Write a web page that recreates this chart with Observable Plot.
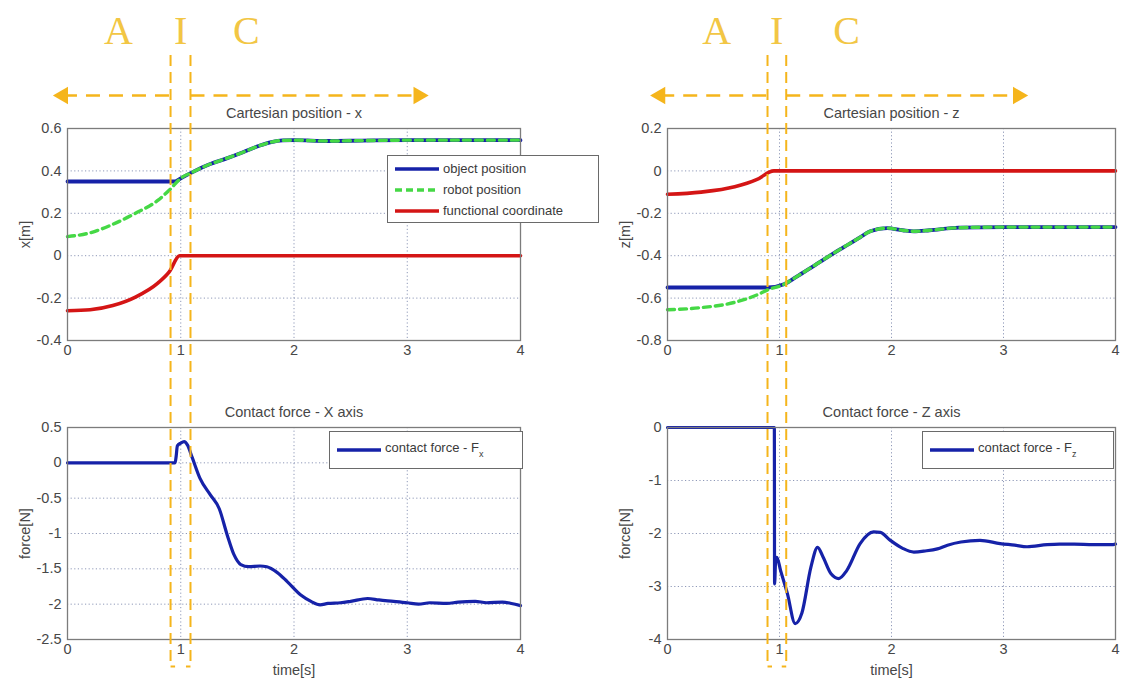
<!DOCTYPE html>
<html><head><meta charset="utf-8">
<script src="https://cdn.jsdelivr.net/npm/d3@7"></script>
<script src="https://cdn.jsdelivr.net/npm/@observablehq/plot@0.6"></script>
<style>
body{margin:0;background:#fff;}
#root{position:relative;width:1122px;height:688px;overflow:hidden;font-family:"Liberation Sans",Arial,sans-serif;background:#fff;}
.pos{position:absolute;}
.legend{position:absolute;background:#fff;border:1px solid #6a6a6a;font-size:13px;color:#3a3a3a;box-sizing:border-box;}
.row{display:flex;align-items:center;height:21px;white-space:nowrap;}
.row svg{margin:0 3px 0 6px;flex:none;}
sub{font-size:9px;vertical-align:-5px;}
</style></head>
<body><div id="root"></div>
<script>
// ---------- data ----------
const xTicks = [0, 1, 2, 3, 4];
const posXTicks = [0.6, 0.4, 0.2, 0, -0.2, -0.4];
const posZTicks = [0.2, 0, -0.2, -0.4, -0.6, -0.8];
const forceXTicks = [0.5, 0, -0.5, -1, -1.5, -2, -2.5];
const forceZTicks = [0, -1, -2, -3, -4];

const seriesNames = ["object position", "robot position", "functional coordinate"];

// Cartesian position - x
const objX_t = [0, 0.95, 1.0, 1.1, 1.25, 1.4, 1.55, 1.7, 1.8, 1.9, 2.0, 2.3, 2.6, 3.0, 3.4, 3.8, 4.0];
const objX_v = [0.35, 0.35, 0.365, 0.393, 0.43, 0.458, 0.488, 0.52, 0.536, 0.544, 0.545, 0.541, 0.543, 0.545, 0.545, 0.545, 0.545];
const robX_t = [0, 0.2, 0.4, 0.6, 0.8, 0.9, 1.0, 1.1, 1.25, 1.4, 1.55, 1.7, 1.8, 1.9, 2.0, 2.3, 2.6, 3.0, 3.4, 3.8, 4.0];
const robX_v = [0.09, 0.108, 0.148, 0.2, 0.262, 0.31, 0.365, 0.393, 0.43, 0.458, 0.488, 0.52, 0.536, 0.544, 0.545, 0.541, 0.543, 0.545, 0.545, 0.545, 0.545];
const funX_t = [0, 0.2, 0.4, 0.6, 0.8, 0.9, 0.99, 1.2, 2, 3, 4];
const funX_v = [-0.26, -0.255, -0.235, -0.195, -0.128, -0.075, 0, 0, 0, 0, 0];

// Cartesian position - z
const objZ_t = [0, 0.9, 1.04, 1.15, 1.3, 1.54, 1.7, 1.81, 1.96, 2.1, 2.2, 2.34, 2.6, 3.0, 3.5, 4.0];
const objZ_v = [-0.55, -0.55, -0.535, -0.5, -0.45, -0.37, -0.32, -0.285, -0.27, -0.28, -0.285, -0.28, -0.268, -0.265, -0.265, -0.265];
const robZ_t = [0, 0.3, 0.6, 0.8, 0.9, 1.04, 1.15, 1.3, 1.54, 1.7, 1.81, 1.96, 2.1, 2.2, 2.34, 2.6, 3.0, 3.5, 4.0];
const robZ_v = [-0.655, -0.645, -0.62, -0.585, -0.56, -0.535, -0.5, -0.45, -0.37, -0.32, -0.285, -0.27, -0.28, -0.285, -0.28, -0.268, -0.265, -0.265, -0.265];
const funZ_t = [0, 0.3, 0.6, 0.8, 0.95, 1.2, 2, 3, 4];
const funZ_v = [-0.11, -0.1, -0.075, -0.04, 0, 0, 0, 0, 0];

// Contact force - X axis
const fx_t = [0, 0.95, 0.96, 0.97, 1.0, 1.03, 1.06, 1.1, 1.17, 1.26, 1.34, 1.41, 1.47, 1.53, 1.6, 1.7, 1.76, 1.85, 1.94, 2.06, 2.15, 2.23, 2.3, 2.41, 2.5, 2.65, 2.75, 2.88, 3.0, 3.1, 3.2, 3.35, 3.45, 3.6, 3.7, 3.84, 3.92, 4.0];
const fx_v = [0, 0, 0.1, 0.24, 0.28, 0.3, 0.25, 0.08, -0.22, -0.45, -0.65, -1.02, -1.3, -1.44, -1.47, -1.46, -1.47, -1.55, -1.68, -1.87, -1.96, -2.01, -1.99, -1.98, -1.96, -1.92, -1.94, -1.96, -1.98, -2.0, -1.98, -1.99, -1.97, -1.96, -1.98, -1.97, -1.99, -2.02];

// Contact force - Z axis
const fz_t = [0, 0.954, 0.956, 0.966, 0.976, 1.01, 1.07, 1.14, 1.2, 1.28, 1.34, 1.39, 1.46, 1.53, 1.6, 1.72, 1.84, 1.9, 1.99, 2.1, 2.2, 2.3, 2.41, 2.5, 2.62, 2.79, 2.97, 3.1, 3.21, 3.39, 3.5, 3.63, 3.8, 3.98, 4.0];
const fz_v = [0, 0, -2.95, -2.5, -2.45, -2.7, -3.13, -3.7, -3.5, -2.64, -2.26, -2.45, -2.76, -2.85, -2.7, -2.19, -1.97, -1.98, -2.13, -2.28, -2.35, -2.33, -2.29, -2.22, -2.16, -2.13, -2.19, -2.22, -2.25, -2.21, -2.2, -2.2, -2.21, -2.21, -2.2];

// phase annotations (time units of each column's x scale)
const phaseBoundsL = [0.91, 1.086];
const phaseBoundsR = [0.893, 1.06];
const phaseLettersL = [{label: "A", t: 0.45}, {label: "I", t: 1.0}, {label: "C", t: 1.58}];
const phaseLettersR = [{label: "A", t: 0.44}, {label: "I", t: 0.975}, {label: "C", t: 1.6}];
const arrowTipsL = [-0.04, 3.1];
const arrowTipsR = [-0.065, 3.13];

// ---------- styles ----------
const BLUE = "#1622a8", GREEN = "#45d845", RED = "#d41515", GOLD = "#f5b51c", LETTER = "#f2c644";
const TXT = "#474747";
const FONT = '"Liberation Sans", Arial, sans-serif';
const zip = (t, v) => t.map((d, i) => ({t: d, v: v[i]}));
const root = document.getElementById("root");

function place(el, left, top) {
  el.classList.add("pos");
  el.style.left = left + "px";
  el.style.top = top + "px";
  root.appendChild(el);
}

function panel({lines, yDomain, yTicks, yLabel, title, xLabel, left, top, width, height, mL, mR, mT, mB}) {
  const marks = [
    Plot.gridX(xTicks, {stroke: "#8f99b8", strokeDasharray: "1.2,2.4", strokeOpacity: 1, strokeWidth: 1}),
    Plot.gridY(yTicks, {stroke: "#8f99b8", strokeDasharray: "1.2,2.4", strokeOpacity: 1, strokeWidth: 1}),
    ...lines.map(l => Plot.line(l.data, {x: "t", y: "v", stroke: l.color, strokeWidth: l.width || 3.2,
      strokeDasharray: l.dash, curve: "monotone-x"})),
    Plot.frame({stroke: "#7c7c7c", strokeWidth: 1.3}),
    Plot.axisX({ticks: xTicks, tickSize: 0, tickPadding: 4, tickFormat: d => String(d), fontSize: 14.5, color: TXT,
      label: xLabel ?? null, labelAnchor: "center", labelArrow: "none", labelOffset: 35}),
    Plot.axisY({ticks: yTicks, tickSize: 0, tickPadding: 6, tickFormat: d => String(d), fontSize: 14.5, color: TXT,
      label: yLabel, labelAnchor: "center", labelArrow: "none", labelOffset: 48}),
    Plot.text([title], {frameAnchor: "top", lineAnchor: "bottom", dy: -11, fontSize: 14.5, fill: TXT})
  ];
  const svg = Plot.plot({
    width, height, marginLeft: mL, marginRight: mR, marginTop: mT, marginBottom: mB,
    x: {domain: [0, 4]}, y: {domain: yDomain},
    style: {fontFamily: FONT, fontSize: "14.5px", background: "transparent", overflow: "visible"},
    marks
  });
  place(svg, left, top);
}

const colL = {left: 0, width: 560, mL: 67, mR: 40};
const colR = {left: 600, width: 522, mL: 67, mR: 7};
const topRow = {top: 100, height: 270, mT: 28, mB: 30};
const botRow = {top: 399, height: 290, mT: 28, mB: 50};

panel({...colL, ...topRow, yDomain: [-0.4, 0.6], yTicks: posXTicks, yLabel: "x[m]", title: "Cartesian position - x",
  lines: [
    {data: zip(objX_t, objX_v), color: BLUE, width: 3.8},
    {data: zip(robX_t, robX_v), color: GREEN, width: 3.4, dash: "7,5"},
    {data: zip(funX_t, funX_v), color: RED, width: 3.6}
  ]});
panel({...colR, ...topRow, yDomain: [-0.8, 0.2], yTicks: posZTicks, yLabel: "z[m]", title: "Cartesian position - z",
  lines: [
    {data: zip(objZ_t, objZ_v), color: BLUE, width: 3.8},
    {data: zip(robZ_t, robZ_v), color: GREEN, width: 3.4, dash: "7,5"},
    {data: zip(funZ_t, funZ_v), color: RED, width: 3.6}
  ]});
panel({...colL, ...botRow, yDomain: [-2.5, 0.5], yTicks: forceXTicks, yLabel: "force[N]", title: "Contact force - X axis", xLabel: "time[s]",
  lines: [{data: zip(fx_t, fx_v), color: BLUE, width: 3.2}]});
panel({...colR, ...botRow, yDomain: [-4, 0], yTicks: forceZTicks, yLabel: "force[N]", title: "Contact force - Z axis", xLabel: "time[s]",
  lines: [{data: zip(fz_t, fz_v), color: BLUE, width: 3.2}]});

// ---------- legends ----------
function sample(color, dash) {
  return `<svg width="46" height="8"><line x1="1" y1="4" x2="45" y2="4" stroke="${color}" stroke-width="3.5" ${dash ? `stroke-dasharray="${dash}"` : ""}/></svg>`;
}
function legend(html, left, top, width, height) {
  const d = document.createElement("div");
  d.className = "legend";
  d.innerHTML = html;
  d.style.left = left + "px"; d.style.top = top + "px";
  d.style.width = width + "px"; d.style.height = height + "px";
  root.appendChild(d);
}
const legColors = [[BLUE], [GREEN, "7,4"], [RED]];
legend(`<div style="padding-top:2px">` + seriesNames.map((n, i) => `<div class="row">${sample(...legColors[i])}<span>${n}</span></div>`).join("") + `</div>`, 387, 155, 212, 68);
legend(`<div class="row" style="height:35px">${sample(BLUE)}<span>contact force - F<sub>x</sub></span></div>`, 329, 431, 194, 38);
legend(`<div class="row" style="height:35px">${sample(BLUE)}<span>contact force - F<sub>z</sub></span></div>`, 922, 431, 192, 38);

// ---------- phase annotation overlays ----------
function overlay({left, width, mL, mR}, bounds, letters, tips) {
  const Y_LINE_TOP = 55, Y_LINE_BOT = 666, Y_ARROW = 95, Y_LETTER = 31;
  const arrows = [{x1: tips[0], x2: bounds[0]}, {x1: bounds[1], x2: tips[1]}];
  const heads = [{x: tips[0], rot: -90}, {x: tips[1], rot: 90}];
  const brackets = [{x1: bounds[0], x2: bounds[0] + 0.04}, {x1: bounds[1] - 0.04, x2: bounds[1]}];
  const svg = Plot.plot({
    width, height: 688, marginLeft: mL, marginRight: mR, marginTop: 0, marginBottom: 0,
    x: {domain: [0, 4], axis: null}, y: {domain: [688, 0], axis: null},
    style: {background: "transparent", overflow: "visible"},
    marks: [
      Plot.ruleX(bounds, {y1: Y_LINE_TOP, y2: Y_LINE_BOT, stroke: GOLD, strokeWidth: 2, strokeDasharray: "11,6"}),
      Plot.link(brackets, {x1: "x1", x2: "x2", y1: Y_LINE_BOT, y2: Y_LINE_BOT, stroke: GOLD, strokeWidth: 2}),
      Plot.link(arrows, {x1: "x1", x2: "x2", y1: Y_ARROW, y2: Y_ARROW, stroke: GOLD, strokeWidth: 2.5, strokeDasharray: "14,9"}),
      Plot.dot(heads, {x: "x", y: Y_ARROW, symbol: "triangle", r: 6.5, fill: GOLD, stroke: "none", rotate: "rot"}),
      Plot.text(letters, {x: "t", y: Y_LETTER, text: "label", fontSize: 40, fontFamily: '"Liberation Serif", "DejaVu Serif", serif', fill: LETTER})
    ]
  });
  svg.style.pointerEvents = "none";
  place(svg, left, 0);
}
overlay(colL, phaseBoundsL, phaseLettersL, arrowTipsL);
overlay(colR, phaseBoundsR, phaseLettersR, arrowTipsR);
</script></body></html>
